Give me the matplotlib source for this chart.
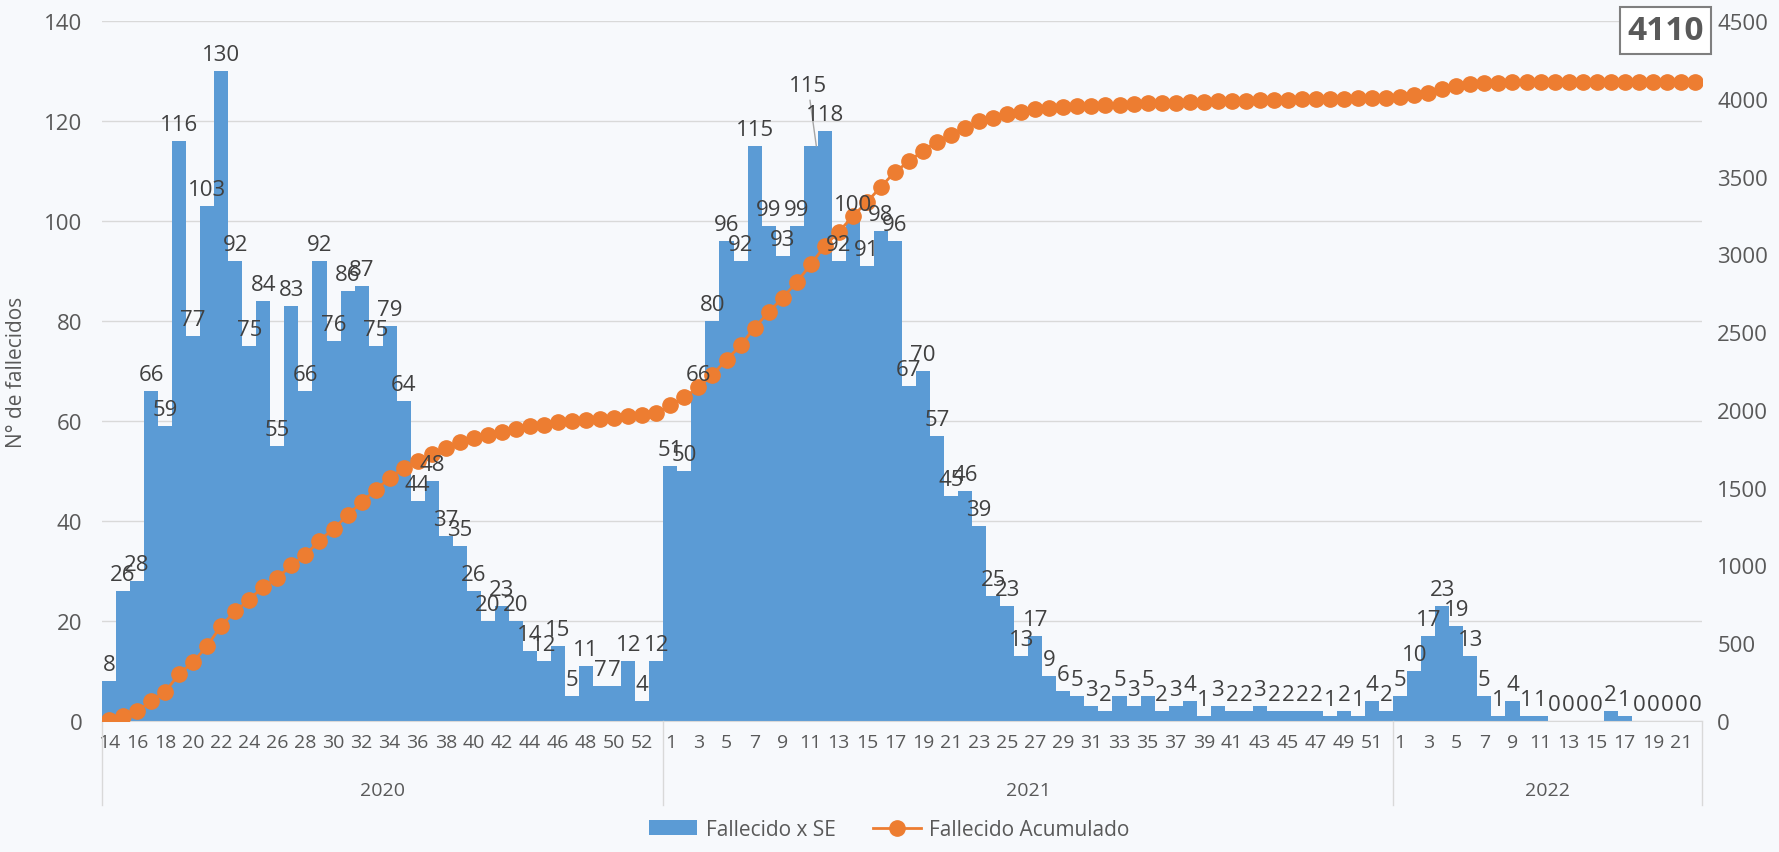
import numpy as np
import matplotlib.pyplot as plt
import matplotlib.transforms as mtransforms
from matplotlib.lines import Line2D
from matplotlib.patches import Patch

plt.rcParams['font.family'] = ['Open Sans', 'DejaVu Sans']

# datos por semana epidemiologica
years = ['2020', '2021', '2022']
weeks_2020 = list(range(14, 54))
weeks_2021 = list(range(1, 53))
weeks_2022 = list(range(1, 23))

deaths_2020 = [8, 26, 28, 66, 59, 116, 77, 103, 130, 92,
               75, 84, 55, 83, 66, 92, 76, 86, 87, 75,
               79, 64, 44, 48, 37, 35, 26, 20, 23, 20,
               14, 12, 15, 5, 11, 7, 7, 12, 4, 12]
deaths_2021 = [51, 50, 66, 80, 96, 92, 115, 99, 93, 99,
               115, 118, 92, 100, 91, 98, 96, 67, 70, 57,
               45, 46, 39, 25, 23, 13, 17, 9, 6, 5,
               3, 2, 5, 3, 5, 2, 3, 4, 1, 3,
               2, 2, 3, 2, 2, 2, 2, 1, 2, 1, 4, 2]
deaths_2022 = [5, 10, 17, 23, 19, 13, 5, 1, 4, 1, 1,
               0, 0, 0, 0, 2, 1, 0, 0, 0, 0, 0]
total_label = '4110'

weeks = weeks_2020 + weeks_2021 + weeks_2022
deaths = np.array(deaths_2020 + deaths_2021 + deaths_2022)
cumulative = np.cumsum(deaths)
x = np.arange(len(deaths))
group_sizes = [len(weeks_2020), len(weeks_2021), len(weeks_2022)]

bar_color = '#5B9BD5'
line_color = '#ED7D31'
text_gray = '#595959'
grid_gray = '#D9D9D9'

fig = plt.figure(figsize=(17.79, 8.53), dpi=100)
fig.patch.set_facecolor('#F7F9FC')
ax = fig.add_axes([0.0573, 0.1536, 0.8994, 0.8206])
ax.set_facecolor('none')
ax2 = ax.twinx()

ax.bar(x, deaths, width=1.0, color=bar_color, zorder=2)
ax.set_xlim(-0.5, len(x) - 0.5)
ax.set_ylim(0, 140)
ax.set_yticks(range(0, 141, 20))
ax.yaxis.grid(True, color=grid_gray, lw=1)
ax.set_axisbelow(True)

ax2.plot(x, cumulative, color=line_color, lw=2, marker='o', markersize=11,
         markeredgecolor=line_color, zorder=3)
ax2.set_ylim(0, 4500)
ax2.set_yticks(range(0, 4501, 500))

for a in (ax, ax2):
    for s in a.spines.values():
        s.set_visible(False)
ax.spines['bottom'].set_visible(True)
ax.spines['bottom'].set_color(grid_gray)

ax.tick_params(axis='y', length=0, labelsize=16, labelcolor=text_gray, pad=14)
ax2.tick_params(axis='y', length=0, labelsize=16, labelcolor=text_gray, pad=11)
ax.set_xticks(x[::2])
ax.set_xticklabels([str(w) for w in weeks[::2]])
ax.tick_params(axis='x', length=0, labelsize=14, labelcolor=text_gray, pad=9)

ax.set_ylabel('N° de fallecidos', fontsize=15, color=text_gray)
ax.yaxis.set_label_coords(-0.047, 0.5)

# etiquetas de datos
special = len(weeks_2020) + 10
for i, v in zip(x, deaths):
    if i == special:
        ax2.annotate(str(v), xy=(i + 0.4, v), xycoords=ax.transData,
                     xytext=(i - 0.2, v + 10), textcoords=ax.transData,
                     ha='center', va='bottom', fontsize=16, color='#404040',
                     arrowprops=dict(arrowstyle='-', color='#A6A6A6', lw=1,
                                     shrinkA=1, shrinkB=0))
    else:
        ax2.annotate(str(v), xy=(i, v), xycoords=ax.transData,
                     xytext=(0, 4), textcoords='offset points',
                     ha='center', va='bottom', fontsize=16, color='#404040')

# agrupacion por anio
trans = mtransforms.blended_transform_factory(ax.transData, ax.transAxes)
edges = np.concatenate([[0], np.cumsum(group_sizes)]) - 0.5
for e in edges:
    ax.plot([e, e], [0, -0.12], transform=trans, color=grid_gray, lw=1,
            clip_on=False)
for yr, a, b in zip(years, edges[:-1], edges[1:]):
    ax.text((a + b) / 2, -0.098, yr, transform=trans, ha='center', va='center',
            fontsize=14, color=text_gray)

fig.text(0.936, 0.963, total_label, ha='center', va='center', fontsize=24,
         weight='bold', color=text_gray,
         bbox=dict(boxstyle='square,pad=0.22', fc='white', ec='#7F7F7F', lw=1.5))

handles = [Patch(facecolor=bar_color, edgecolor='none'),
           Line2D([], [], color=line_color, lw=2, marker='o', markersize=11)]
fig.legend(handles, ['Fallecido x SE', 'Fallecido Acumulado'], loc='lower center',
           bbox_to_anchor=(0.5, -0.008), ncol=2, frameon=False, fontsize=15,
           handlelength=2.3, handletextpad=0.4, columnspacing=1.8,
           labelcolor=text_gray)

fig.savefig('out.png', dpi=100, facecolor=fig.get_facecolor())
